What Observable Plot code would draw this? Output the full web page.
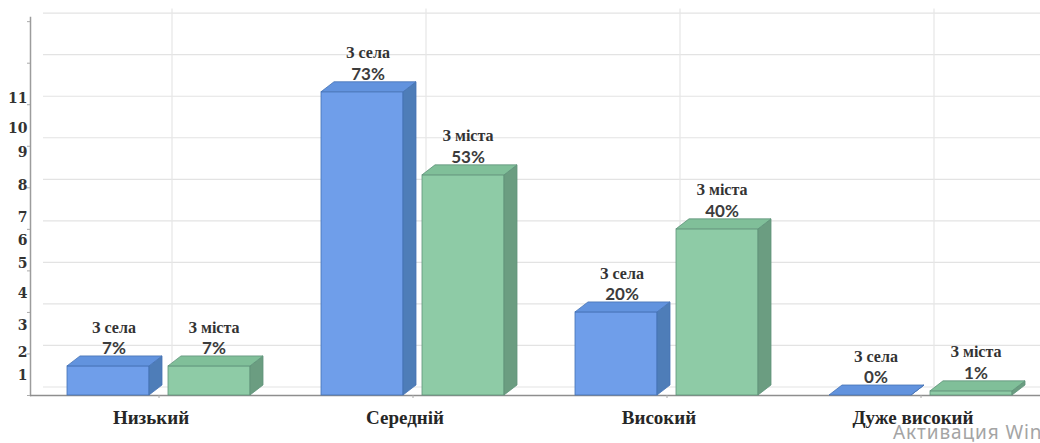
<!DOCTYPE html>
<html>
<head>
<meta charset="utf-8">
<script src="https://cdn.jsdelivr.net/npm/d3@7"></script>
<script src="https://cdn.jsdelivr.net/npm/@observablehq/plot@0.6"></script>
<style>
  html, body { margin: 0; padding: 0; background: #fff; overflow: hidden; }
  #wrap { position: relative; width: 1040px; height: 443px; overflow: hidden; }
  #stamp {
    position: absolute; left: 893px; top: 419px; white-space: nowrap;
    font: 19px "Noto Sans", sans-serif; letter-spacing: 0.9px; color: #a4a4a4;
  }
</style>
</head>
<body>
<div id="wrap"><div id="stamp">Активация Windows</div></div>
<script>
// Рівні та частки учнів (у відсотках)
const categories = ["Низький", "Середній", "Високий", "Дуже високий"];
const village = [7, 73, 20, 0];
const city = [7, 53, 40, 1];
const seriesNames = ["З села", "З міста"];

// Підписи осі Y та значення, на яких вони стоять
const yTickLabels = [1, 2, 3, 4, 5, 6, 7, 8, 9, 10, 11];
const yTickValues = [4.8, 10.4, 16.9, 24.6, 31.8, 37.3, 42.9, 50.6, 58.6, 64.3, 71.6];
const gridValues = d3.range(0, 91, 10);

const labelOf = new Map(yTickValues.map((v, i) => [v, String(yTickLabels[i])]));

// Глибина об'ємних стовпців
const DX = 13, DY = 10;
const palette = [
  {front: "#6f9eea", side: "#4e7db8", top: "#6293de", edge: "#4572b4"},
  {front: "#8ecba6", side: "#6b9d81", top: "#80bf99", edge: "#5f937a"}
];

const serif = "'Liberation Serif', 'Times New Roman', serif";
const sans = "Lato, 'Liberation Sans', sans-serif";

const chart = Plot.plot({
  width: 1040,
  height: 443,
  marginLeft: 30,
  marginRight: 0,
  marginTop: 17,
  marginBottom: 48,
  style: {background: "white", overflow: "visible"},
  x: {domain: categories, paddingInner: 0.28, paddingOuter: 0.128, align: 0.57, label: null},
  y: {domain: [0, 91], label: null},
  marks: [
    // задня стінка: сітка
    Plot.ruleY(gridValues, {dx: DX, dy: -8.5, stroke: "#e3e3e3", strokeWidth: 1.2}),
    Plot.ruleX(categories, {dx: DX, dy: -8.5, stroke: "#e6e6e6", strokeWidth: 1.2}),
    // осі
    Plot.frame({anchor: "left", stroke: "#9c9c9c", strokeWidth: 1.5}),
    Plot.ruleY([0], {stroke: "#8e8e8e", strokeWidth: 1.5}),
    Plot.axisY(gridValues, {tickSize: 3, tickFormat: () => "", stroke: "#aaa"}),
    Plot.axisY(yTickValues, {
      tickSize: 0, tickPadding: 3, tickFormat: d => labelOf.get(d),
      fontSize: 14, fontWeight: "bold", fontFamily: "'DejaVu Serif', serif", fill: "#333"
    }),
    Plot.axisX({tickSize: 3, tickFormat: () => "", stroke: "#aaa"}),
    Plot.axisX({
      tickSize: 0, tickPadding: 15, dx: -8,
      fontSize: 19, fontWeight: "bold", fontFamily: serif, fill: "#262626"
    }),
    // передні грані стовпців
    Plot.barY(categories, {
      x: d => d, y: (d, i) => village[i], insetRight: 101,
      fill: palette[0].front, stroke: palette[0].edge, strokeWidth: 0.8
    }),
    Plot.barY(categories, {
      x: d => d, y: (d, i) => city[i], insetLeft: 101,
      fill: palette[1].front, stroke: palette[1].edge, strokeWidth: 0.8
    }),
    // підписи над стовпцями
    Plot.text(categories, {
      x: d => d, y: (d, i) => village[i], text: () => seriesNames[0],
      dx: -45, dy: -39, fontSize: 16, fontWeight: "bold", fontFamily: serif, fill: "#333"
    }),
    Plot.text(categories, {
      x: d => d, y: (d, i) => village[i], text: (d, i) => village[i] + "%",
      dx: -45, dy: -18, fontSize: 17, fontWeight: "bold", fontFamily: sans, fill: "#3c3c3c"
    }),
    Plot.text(categories, {
      x: d => d, y: (d, i) => city[i], text: () => seriesNames[1],
      dx: 55, dy: -39, fontSize: 16, fontWeight: "bold", fontFamily: serif, fill: "#333"
    }),
    Plot.text(categories, {
      x: d => d, y: (d, i) => city[i], text: (d, i) => city[i] + "%",
      dx: 55, dy: -18, fontSize: 17, fontWeight: "bold", fontFamily: sans, fill: "#3c3c3c"
    })
  ]
});

// бічні та верхні грані для кожного стовпця
d3.select(chart).selectAll('g[aria-label="bar"]').each(function (_, gi) {
  const g = d3.select(this);
  const c = palette[gi];
  g.selectAll("rect").each(function () {
    const x = +this.getAttribute("x"), y = +this.getAttribute("y");
    const w = +this.getAttribute("width"), h = +this.getAttribute("height");
    const side = [[x + w, y], [x + w + DX, y - DY], [x + w + DX, y + h - DY], [x + w, y + h]];
    const top = [[x, y], [x + DX, y - DY], [x + w + DX, y - DY], [x + w, y]];
    g.append("polygon").attr("points", side.join(" "))
      .attr("fill", c.side).attr("stroke", c.edge).attr("stroke-width", 0.8);
    g.append("polygon").attr("points", top.join(" "))
      .attr("fill", c.top).attr("stroke", c.edge).attr("stroke-width", 0.8);
  });
});

document.getElementById("wrap").prepend(chart);
</script>
</body>
</html>
